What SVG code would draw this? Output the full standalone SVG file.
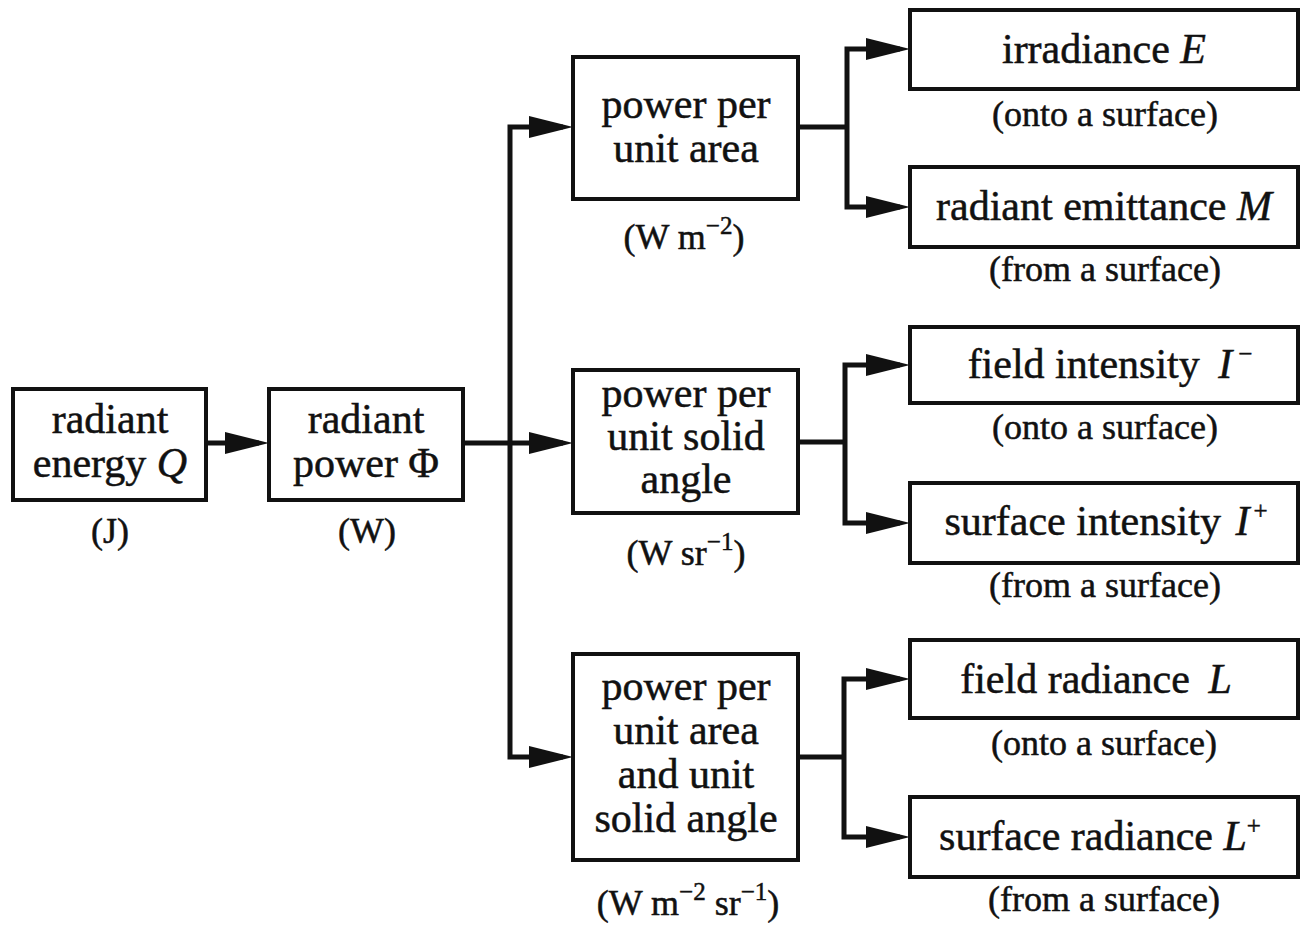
<svg xmlns="http://www.w3.org/2000/svg" width="1308" height="928" viewBox="0 0 1308 928">
<style>
.box{fill:#fff;stroke:#111;stroke-width:4}
.t{font-family:"Liberation Serif","Times New Roman",serif;font-size:42px;fill:#111;stroke:#111;stroke-width:0.5;text-anchor:middle}
.s{font-family:"Liberation Serif","Times New Roman",serif;font-size:36px;fill:#111;stroke:#111;stroke-width:0.5;text-anchor:middle}
.i{font-style:italic}
.sup{font-size:25px}
.c{fill:none;stroke:#111;stroke-width:5;stroke-linejoin:miter}
</style>
<defs>
<marker id="arr" viewBox="0 0 44 22" refX="34" refY="11" markerWidth="44" markerHeight="22" markerUnits="userSpaceOnUse" orient="auto">
<path d="M0,0 L44,11 L0,22 z" fill="#111"/>
</marker>
</defs>
<rect width="1308" height="928" fill="#fff"/>
<g id="connectors">
<path class="c" d="M206,443 H259" marker-end="url(#arr)"/>
<path class="c" d="M463,443 H563" marker-end="url(#arr)"/>
<path class="c" d="M510,443 V127 H563" marker-end="url(#arr)"/>
<path class="c" d="M510,443 V757 H563" marker-end="url(#arr)"/>
<path class="c" d="M798,127 H847"/>
<path class="c" d="M847,127 V49 H900" marker-end="url(#arr)"/>
<path class="c" d="M847,127 V207 H900" marker-end="url(#arr)"/>
<path class="c" d="M798,442 H845"/>
<path class="c" d="M845,442 V365 H900" marker-end="url(#arr)"/>
<path class="c" d="M845,442 V523 H900" marker-end="url(#arr)"/>
<path class="c" d="M798,757 H844"/>
<path class="c" d="M844,757 V679 H900" marker-end="url(#arr)"/>
<path class="c" d="M844,757 V837 H900" marker-end="url(#arr)"/>
</g>
<g id="radiant-energy">
<rect class="box" x="13" y="389" width="193" height="111"/>
<text class="t" x="110" y="433">radiant</text>
<text class="t" x="110" y="477">energy <tspan class="i">Q</tspan></text>
<text class="s" x="110" y="543">(J)</text>
</g>
<g id="radiant-power">
<rect class="box" x="269" y="389" width="194" height="111"/>
<text class="t" x="366" y="433">radiant</text>
<text class="t" x="366" y="477">power Φ</text>
<text class="s" x="367" y="543">(W)</text>
</g>
<g id="per-area">
<rect class="box" x="573" y="57" width="225" height="142"/>
<text class="t" x="686" y="118">power per</text>
<text class="t" x="686" y="162">unit area</text>
<text class="s" x="684" y="249">(W m<tspan class="sup" dy="-15">−2</tspan><tspan dy="15">)</tspan></text>
</g>
<g id="per-solid-angle">
<rect class="box" x="573" y="370" width="225" height="143"/>
<text class="t" x="686" y="407">power per</text>
<text class="t" x="686" y="450">unit solid</text>
<text class="t" x="686" y="493">angle</text>
<text class="s" x="686" y="565">(W sr<tspan class="sup" dy="-15">−1</tspan><tspan dy="15">)</tspan></text>
</g>
<g id="per-area-solid-angle">
<rect class="box" x="573" y="654" width="225" height="206"/>
<text class="t" x="686" y="700">power per</text>
<text class="t" x="686" y="744">unit area</text>
<text class="t" x="686" y="788">and unit</text>
<text class="t" x="686" y="832">solid angle</text>
<text class="s" x="688" y="915">(W m<tspan class="sup" dy="-15">−2</tspan><tspan dy="15"> sr</tspan><tspan class="sup" dy="-15">−1</tspan><tspan dy="15">)</tspan></text>
</g>
<g id="irradiance">
<rect class="box" x="910" y="10" width="388" height="79"/>
<text class="t" x="1104" y="63">irradiance <tspan class="i">E</tspan></text>
<text class="s" x="1105" y="126">(onto a surface)</text>
</g>
<g id="radiant-emittance">
<rect class="box" x="910" y="167" width="388" height="80"/>
<text class="t" x="1104" y="220">radiant emittance <tspan class="i">M</tspan></text>
<text class="s" x="1105" y="281">(from a surface)</text>
</g>
<g id="field-intensity">
<rect class="box" x="910" y="327" width="388" height="76"/>
<text class="t" x="1110" y="378">field intensity <tspan class="i" dx="8">I</tspan><tspan class="sup" dx="6" dy="-16">−</tspan></text>
<text class="s" x="1105" y="439">(onto a surface)</text>
</g>
<g id="surface-intensity">
<rect class="box" x="910" y="483" width="388" height="80"/>
<text class="t" x="1106" y="535">surface intensity <tspan class="i" dx="4">I</tspan><tspan class="sup" dx="4" dy="-16">+</tspan></text>
<text class="s" x="1105" y="597">(from a surface)</text>
</g>
<g id="field-radiance">
<rect class="box" x="910" y="640" width="388" height="78"/>
<text class="t" x="1096" y="693">field radiance <tspan class="i" dx="8">L</tspan></text>
<text class="s" x="1104" y="755">(onto a surface)</text>
</g>
<g id="surface-radiance">
<rect class="box" x="910" y="797" width="388" height="80"/>
<text class="t" x="1100" y="850">surface radiance <tspan class="i">L</tspan><tspan class="sup" dy="-16">+</tspan></text>
<text class="s" x="1104" y="911">(from a surface)</text>
</g>
</svg>
